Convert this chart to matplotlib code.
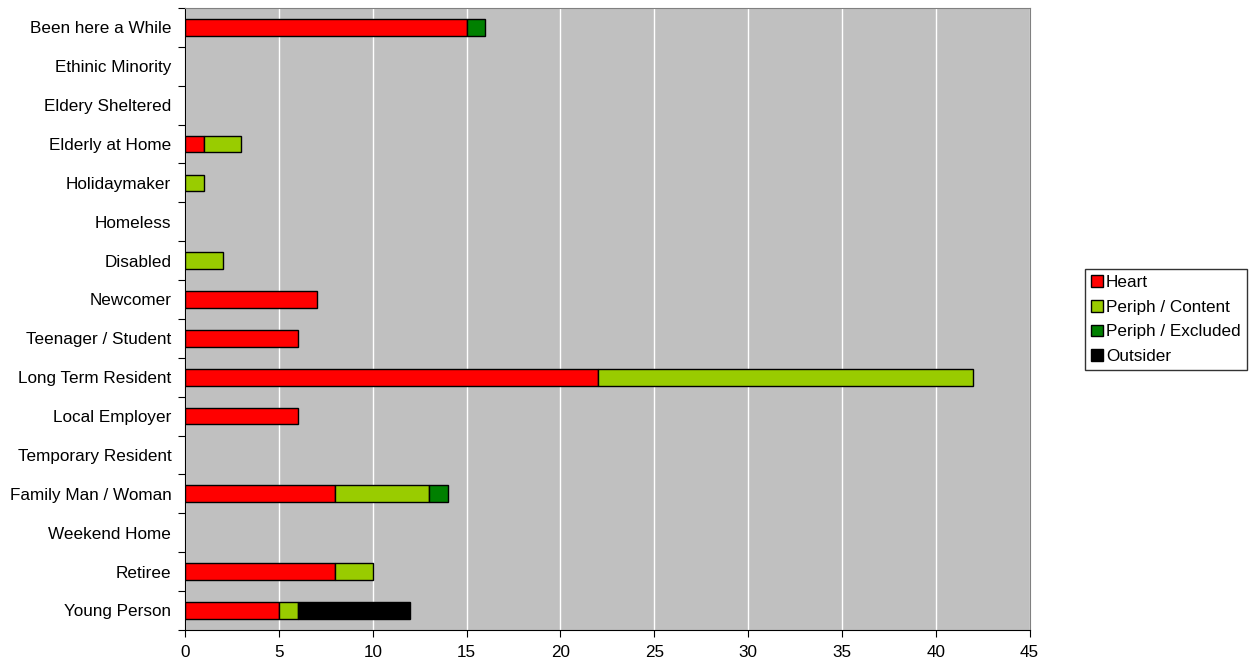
from matplotlib import pyplot as plt
import numpy as np

categories = ["Young Person", "Retiree", "Weekend Home", "Family Man / Woman",
              "Temporary Resident", "Local Employer", "Long Term Resident",
              "Teenager / Student", "Newcomer", "Disabled", "Homeless",
              "Holidaymaker", "Elderly at Home", "Eldery Sheltered",
              "Ethinic Minority", "Been here a While"]
heart = [5, 8, 0, 8, 0, 6, 22, 6, 7, 0, 0, 0, 1, 0, 0, 15]
periph_content = [1, 2, 0, 5, 0, 0, 20, 0, 0, 2, 0, 1, 2, 0, 0, 0]
periph_excluded = [0, 0, 0, 1, 0, 0, 0, 0, 0, 0, 0, 0, 0, 0, 0, 1]
outsider = [6, 0, 0, 0, 0, 0, 0, 0, 0, 0, 0, 0, 0, 0, 0, 0]

series = [("Heart", heart, "#ff0000"),
          ("Periph / Content", periph_content, "#99cc00"),
          ("Periph / Excluded", periph_excluded, "#008000"),
          ("Outsider", outsider, "#000000")]

plt.rcParams['font.family'] = ['Liberation Sans', 'DejaVu Sans']
plt.rcParams['font.size'] = 12.3

fig = plt.figure(figsize=(12.51, 6.70), dpi=100)
ax = fig.add_axes([0.148, 0.06, 0.675, 0.928])
ax.set_facecolor("#c0c0c0")

y = np.arange(len(categories))
left = np.zeros(len(categories))
handles = []
for name, vals, color in series:
    vals = np.array(vals, dtype=float)
    mask = vals > 0
    ax.barh(y[mask], vals[mask], left=left[mask], height=0.43, color=color,
            edgecolor="black", linewidth=1.0, zorder=3)
    handles.append(plt.Rectangle((0, 0), 1, 1, facecolor=color,
                                 edgecolor="black", linewidth=1, label=name))
    left += vals

ax.set_xlim(0, 45)
ax.set_ylim(-0.5, len(categories) - 0.5)
ax.set_xticks(np.arange(0, 46, 5))
ax.xaxis.grid(True, color="white", linewidth=1, zorder=0)
ax.set_axisbelow(True)

ax.set_yticks(np.arange(-0.5, len(categories), 1))
ax.set_yticklabels([])
ax.set_yticks(y, minor=True)
ax.set_yticklabels(categories, minor=True)
ax.tick_params(axis="y", which="minor", length=0, pad=10)
ax.tick_params(axis="y", which="major", length=5, direction="out")
ax.tick_params(axis="x", length=5, direction="out", pad=6)

for side in ["top", "right"]:
    ax.spines[side].set_color("#808080")
for side in ["left", "bottom"]:
    ax.spines[side].set_color("black")

fig.legend(handles=handles, loc="upper left", bbox_to_anchor=(0.867, 0.599),
           frameon=True, fancybox=False, edgecolor="black",
           handlelength=0.7, handleheight=0.7, handletextpad=0.2,
           borderpad=0.35, labelspacing=0.58, borderaxespad=0)

plt.savefig("out.png", dpi=100)
